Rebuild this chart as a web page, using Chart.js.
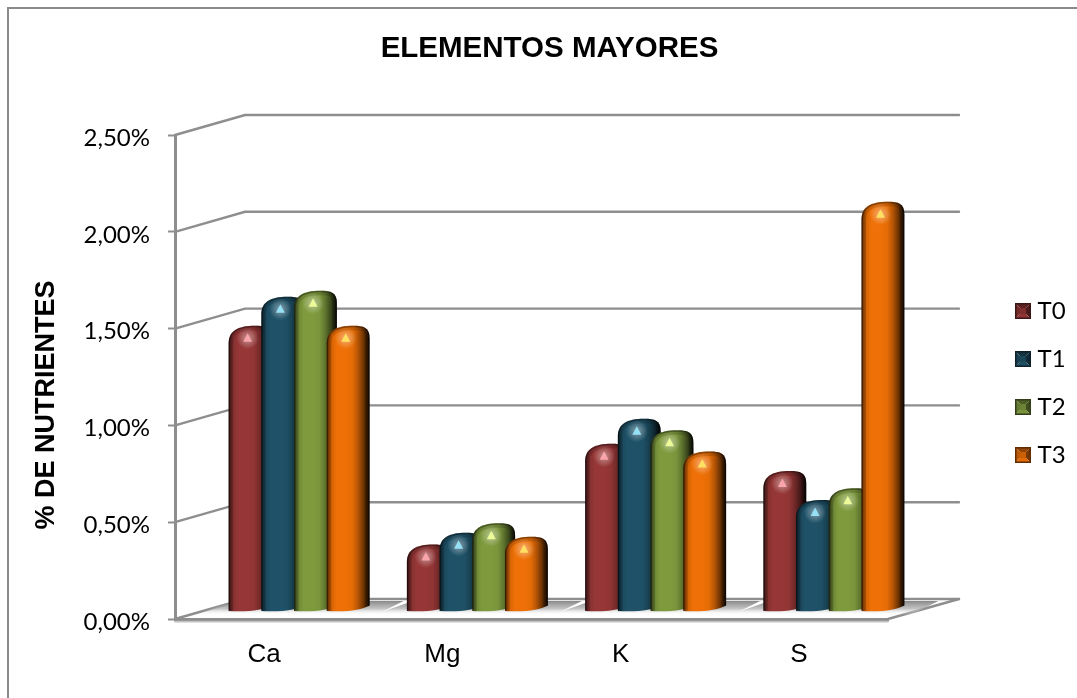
<!DOCTYPE html>
<html lang="es">
<head>
<meta charset="utf-8">
<title>Elementos mayores</title>
<script src="https://cdn.jsdelivr.net/npm/chart.js@4"></script>
<style>
  html, body { margin: 0; padding: 0; background: #fff; }
  #wrap { position: relative; width: 1077px; height: 698px; overflow: hidden; }
  canvas { display: block; }
</style>
</head>
<body>
<div id="wrap"><canvas id="chart" width="1077" height="698"></canvas></div>
<script>
// Values of the chart
const categories = ['Ca', 'Mg', 'K', 'S'];
const seriesNames = ['T0', 'T1', 'T2', 'T3'];
const t0 = [1.44, 0.31, 0.83, 0.69];
const t1 = [1.59, 0.37, 0.96, 0.54];
const t2 = [1.62, 0.42, 0.90, 0.60];
const t3 = [1.44, 0.35, 0.79, 2.08];
const seriesColors = ['#963636', '#1f5268', '#7e9a3d', '#ee7006'];
const glintColors = ['#f8a4aa', '#96e0f6', '#ecfb98', '#ffe060'];
const chartTitle = 'ELEMENTOS MAYORES';
const yAxisTitle = '% DE NUTRIENTES';

// Pseudo-3D depth of the plot box, in pixels
const DEPTH_X = 70, DEPTH_Y = -20;
const GRID = '#8e8e8e';

function shade(hex, k) {
  const n = parseInt(hex.slice(1), 16);
  const c = [(n >> 16) & 255, (n >> 8) & 255, n & 255].map(v => Math.round(v * k));
  return `rgb(${c[0]},${c[1]},${c[2]})`;
}

// Bevelled legend key
function legendKey(color) {
  const s = 16, c = document.createElement('canvas');
  c.width = c.height = s;
  const g = c.getContext('2d');
  const tri = (pts, fill) => {
    g.fillStyle = fill; g.beginPath();
    pts.forEach((p, i) => i ? g.lineTo(p[0], p[1]) : g.moveTo(p[0], p[1]));
    g.closePath(); g.fill();
  };
  const m = [8, 8];
  tri([[0, 0], [16, 0], m], shade(color, 0.62));
  tri([[0, 0], [0, 16], m], shade(color, 0.8));
  tri([[16, 0], [16, 16], m], shade(color, 0.5));
  tri([[0, 16], [16, 16], m], shade(color, 0.95));
  g.fillStyle = shade(color, 0.85);
  g.fillRect(5, 5, 6, 6);
  g.strokeStyle = shade(color, 0.4);
  g.lineWidth = 1.5;
  g.strokeRect(0.75, 0.75, 14.5, 14.5);
  return c;
}
const legendKeys = seriesColors.map(legendKey);

// Cap curve of one cylinder, rounded and skewed towards the right
function capCurve(ctx, l, r, top) {
  const w = r - l;
  ctx.lineTo(l, top + 13);
  ctx.bezierCurveTo(l, top + 1, l + 0.2 * w, top - 4.5, l + 0.62 * w, top - 4.5);
  ctx.bezierCurveTo(l + 0.86 * w, top - 4.5, r, top - 3, r, top + 8);
}

// Outline of one cylinder: skewed cap on top, shallow arc below
function cylinderPath(ctx, l, r, top, base) {
  const w = r - l;
  ctx.beginPath();
  ctx.moveTo(l, base + 2.5);
  capCurve(ctx, l, r, top);
  ctx.lineTo(r, base - 3);
  ctx.bezierCurveTo(r - 0.2 * w, base + 1.5, l + 0.5 * w, base + 3.5, l, base + 2.5);
  ctx.closePath();
}

function drawCylinder(ctx, bar, color, glint, dx, dy) {
  const halfW = bar.width / 2;
  const l = bar.x - halfW + dx, r = bar.x + halfW + dx;
  const top = bar.y + dy, base = bar.base + dy;

  const g = ctx.createLinearGradient(l, 0, r, 0);
  [[0, .36], [.04, .62], [.12, .9], [.22, 1], [.46, 1], [.6, .96],
   [.72, .78], [.85, .48], [.96, .18], [1, .1]].forEach(s => g.addColorStop(s[0], shade(color, s[1])));

  ctx.save();
  cylinderPath(ctx, l, r, top, base);
  ctx.fillStyle = g;
  ctx.fill();
  ctx.clip();

  // Dark rim following the cap
  ctx.lineJoin = 'round';
  ctx.strokeStyle = 'rgba(0,0,0,0.14)';
  ctx.lineWidth = 9;
  ctx.beginPath();
  ctx.moveTo(l, base);
  capCurve(ctx, l, r, top);
  ctx.lineTo(r, base);
  ctx.stroke();
  ctx.strokeStyle = 'rgba(0,0,0,0.32)';
  ctx.lineWidth = 3;
  ctx.stroke();

  // Specular glint under the cap
  const gx = l + 19, gy = top + 8;
  const halo = ctx.createRadialGradient(gx, gy, 1, gx, gy, 11);
  halo.addColorStop(0, 'rgba(255,255,255,0.42)');
  halo.addColorStop(1, 'rgba(255,255,255,0)');
  ctx.fillStyle = halo;
  ctx.fillRect(gx - 11, gy - 11, 22, 22);
  ctx.fillStyle = glint;
  ctx.beginPath();
  ctx.moveTo(gx, gy - 5);
  ctx.lineTo(gx + 4.5, gy + 3.5);
  ctx.lineTo(gx - 4.5, gy + 3.5);
  ctx.closePath();
  ctx.fill();
  ctx.restore();
}

// Outer frame, back wall, floor and cylinders
const box3d = {
  id: 'box3d',
  afterLayout(chart) {
    // The legend and title sit outside the plot's own horizontal span
    const lg = chart.legend;
    const lw = lg.right - lg.left, lh = lg.bottom - lg.top;
    lg.left = 996.5; lg.right = lg.left + lw;
    lg.top = 141; lg.bottom = lg.top + lh;
    const t = chart.titleBlock;
    t.left = 0; t.right = 1099;
  },
  beforeDraw(chart) {
    const ctx = chart.ctx;
    ctx.save();
    ctx.strokeStyle = '#8a8a8a';
    ctx.lineWidth = 2;
    ctx.beginPath();
    ctx.moveTo(8, 698); ctx.lineTo(8, 8); ctx.lineTo(1077, 8);
    ctx.stroke();
    ctx.restore();
  },
  beforeDatasetsDraw(chart) {
    const { ctx, chartArea: a, scales: { y } } = chart;
    const floorY = y.getPixelForValue(0);
    const groupSpan = i => {
      const m0 = chart.getDatasetMeta(0).data[i], m3 = chart.getDatasetMeta(3).data[i];
      return [m0.x - m0.width / 2 + DEPTH_X / 2, m3.x + m3.width / 2 + DEPTH_X / 2];
    };
    ctx.save();

    // Wall lines and their returns to the front axis
    ctx.strokeStyle = GRID;
    ctx.lineWidth = 2.4;
    ctx.lineCap = 'round';
    y.ticks.forEach(t => {
      const py = y.getPixelForValue(t.value);
      ctx.beginPath();
      ctx.moveTo(a.left, py);
      ctx.lineTo(a.left + DEPTH_X, py + DEPTH_Y);
      ctx.lineTo(a.right + DEPTH_X + 1, py + DEPTH_Y);
      ctx.stroke();
    });

    // Right edge of the floor and the soft lip under its front edge
    ctx.beginPath();
    ctx.moveTo(a.right, floorY);
    ctx.lineTo(a.right + DEPTH_X + 1, floorY + DEPTH_Y);
    ctx.stroke();
    ctx.strokeStyle = 'rgba(170,170,170,0.7)';
    ctx.lineWidth = 2;
    ctx.beginPath();
    ctx.moveTo(a.left, floorY + 2.5);
    ctx.lineTo(a.right, floorY + 2.5);
    ctx.stroke();

    // Shadows on the floor, one per group of cylinders
    categories.forEach((_, i) => {
      const [l, r] = groupSpan(i);
      const top = floorY + DEPTH_Y + 2, bot = floorY - 4;
      const g = ctx.createLinearGradient(0, top, 0, bot);
      g.addColorStop(0, 'rgba(130,130,130,0.95)');
      g.addColorStop(0.55, 'rgba(175,175,175,0.75)');
      g.addColorStop(1, 'rgba(255,255,255,0)');
      ctx.fillStyle = g;
      ctx.beginPath();
      ctx.moveTo(l + 6, top);
      ctx.lineTo(r + 34, top);
      ctx.lineTo(r + 6, bot);
      ctx.lineTo(l - 34, bot);
      ctx.closePath();
      ctx.fill();
    });

    // Series are painted in order, each one overlapping the previous
    chart.data.datasets.forEach((ds, i) => {
      chart.getDatasetMeta(i).data.forEach(bar => {
        drawCylinder(ctx, bar, seriesColors[i], glintColors[i], DEPTH_X / 2, DEPTH_Y / 2);
      });
    });
    ctx.restore();
  },
  // The cylinders above replace the default flat rectangles
  beforeDatasetDraw() { return false; },
  afterDraw(chart) {
    const ctx = chart.ctx;
    ctx.save();
    ctx.translate(47, 405);
    ctx.rotate(-Math.PI / 2);
    ctx.font = 'bold 27px "Liberation Sans", Arial, sans-serif';
    ctx.fillStyle = '#000';
    ctx.textAlign = 'center';
    ctx.textBaseline = 'middle';
    ctx.fillText(yAxisTitle, 0, 0);
    ctx.restore();
  }
};

const fmtPercent = v => v.toFixed(2).replace('.', ',') + '%';

new Chart(document.getElementById('chart'), {
  type: 'bar',
  data: {
    labels: categories,
    datasets: [t0, t1, t2, t3].map((values, i) => ({
      label: seriesNames[i],
      data: values,
      backgroundColor: seriesColors[i],
      categoryPercentage: 0.734,
      barPercentage: 1.31
    }))
  },
  plugins: [box3d],
  options: {
    responsive: false,
    animation: false,
    layout: { padding: { left: 0, right: 189, top: 0, bottom: 0 } },
    plugins: {
      tooltip: { enabled: false },
      title: {
        display: true,
        text: chartTitle,
        color: '#000',
        font: { family: '"Liberation Sans", Arial, sans-serif', size: 29.5, weight: 'bold' },
        padding: { top: 31, bottom: 68.6 }
      },
      legend: {
        position: 'chartArea',
        align: 'center',
        labels: {
          color: '#000',
          font: { family: 'Lato, sans-serif', size: 24 },
          usePointStyle: true,
          pointStyleWidth: 5,
          boxWidth: 16,
          boxHeight: 16,
          padding: 24,
          generateLabels: () => seriesNames.map((name, i) => ({
            text: name,
            pointStyle: legendKeys[i],
            datasetIndex: i,
            fontColor: '#000',
            lineWidth: 0
          }))
        }
      }
    },
    scales: {
      x: {
        offset: true,
        afterFit(scale) { scale.height = 79; },
        grid: { display: false },
        border: { color: GRID, width: 3 },
        ticks: {
          color: '#000',
          padding: 12,
          maxRotation: 0,
          font: { family: '"Liberation Sans", Arial, sans-serif', size: 26 }
        }
      },
      y: {
        min: 0,
        max: 2.5,
        afterFit(scale) { scale.width = 175; },
        grid: { drawOnChartArea: false, tickLength: 7, tickColor: GRID, tickWidth: 2 },
        border: { color: GRID, width: 3 },
        ticks: {
          stepSize: 0.5,
          color: '#000',
          padding: 18,
          labelOffset: 3,
          callback: fmtPercent,
          font: { family: 'Lato, sans-serif', size: 24 }
        }
      }
    }
  }
});
</script>
</body>
</html>
